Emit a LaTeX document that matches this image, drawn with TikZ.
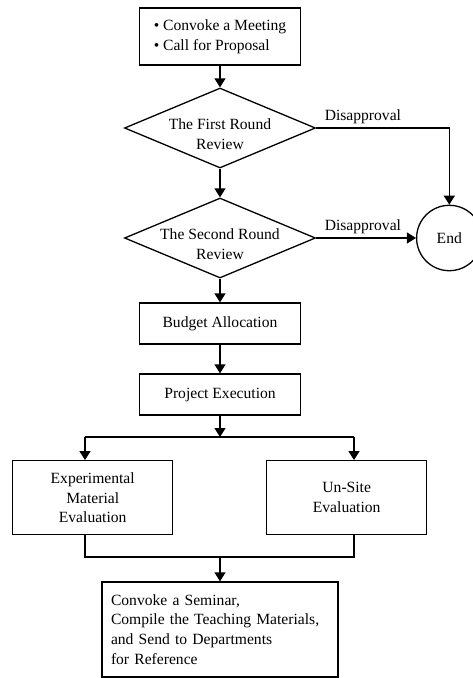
\documentclass[tikz,border=0pt]{standalone}
\usepackage{fontspec}
\setmainfont{Liberation Serif}
\usetikzlibrary{shapes.geometric}
\usetikzlibrary{arrows.meta}
\usetikzlibrary{calc}

\begin{document}
\begin{tikzpicture}[x=1pt,y=-1pt,
  font=\fontsize{15.6}{19.8}\selectfont,
  box/.style={draw,line width=1.3pt,rectangle,inner sep=0pt,align=center},
  decision/.style={draw,line width=1.3pt,diamond,inner sep=0pt,minimum width=191pt,minimum height=80pt},
  arr/.style={line width=1.3pt,-{Triangle[length=9pt,width=11pt]}},
  ln/.style={line width=1.3pt},
  lbl/.style={anchor=south west,inner sep=4pt,xshift=4pt}]
 \useasboundingbox (0,0) rectangle (472,678);
 \pgfmathsetmacro{\cx}{220}
 \pgfmathsetmacro{\lx}{85}
 \pgfmathsetmacro{\rx}{354}

 \node[box,minimum width=161pt,minimum height=57pt,align=left] (meet) at (\cx,36.5) {\textbullet\ Convoke a Meeting\\\textbullet\ Call for Proposal};
 \node[decision] (rev1) at (\cx,128) {};
 \node[align=center,inner sep=0pt] (rev1txt) at (\cx,134.5) {The First Round\\Review};
 \node[decision] (rev2) at (\cx,238) {};
 \node[align=center,inner sep=0pt] (rev2txt) at (\cx,244.5) {The Second Round\\Review};
 \node[draw,circle,line width=1.3pt,minimum size=65.4pt,inner sep=0pt] (end) at (449.3,238) {End};

 \node[box,minimum width=161pt,minimum height=41pt] (budget) at (\cx,323.5) {Budget Allocation};
 \node[box,minimum width=161pt,minimum height=41pt] (exec) at (\cx,394.5) {Project Execution};
 \node[box,minimum width=160pt,minimum height=74pt] (expm) at (92.7,497.7) {Experimental\\Material\\Evaluation};
 \node[box,minimum width=160pt,minimum height=74pt] (site) at (346.7,497.7) {Un-Site\\Evaluation};
 \node[box,minimum width=236pt,minimum height=95pt,text width=218pt,align=left] (sem) at (\cx,629.5) {Convoke a Seminar,\\Compile the Teaching Materials,\\and Send to Departments\\for Reference};

 \draw[arr] (meet) -- (rev1);
 \draw[arr] (rev1) -- (rev2);
 \draw[arr] (rev1.east) node[lbl] (dis1) {Disapproval} -| (end.north);
 \draw[arr] (rev2.east) node[lbl] (dis2) {Disapproval} -- (end.west);
 \draw[arr] (rev2) -- (budget);
 \draw[arr] (budget) -- (exec);

 \coordinate (split) at (\cx,437);
 \coordinate (lt) at (\lx,437);
 \coordinate (rt) at (\rx,437);
 \draw[arr] (exec) -- (split);
 \draw[ln] (lt) -- (rt);
 \foreach \c/\n in {lt/expm,rt/site}
   \draw[arr] (\c) -- (\c |- \n.north);

 \coordinate (lb) at (\lx,557);
 \coordinate (rb) at (\rx,557);
 \coordinate (join) at (\cx,557);
 \draw[ln] (lb |- expm.south) -- (lb) -- (rb) -- (rb |- site.south);
 \draw[arr] (join) -- (sem);
\end{tikzpicture}
\end{document}
